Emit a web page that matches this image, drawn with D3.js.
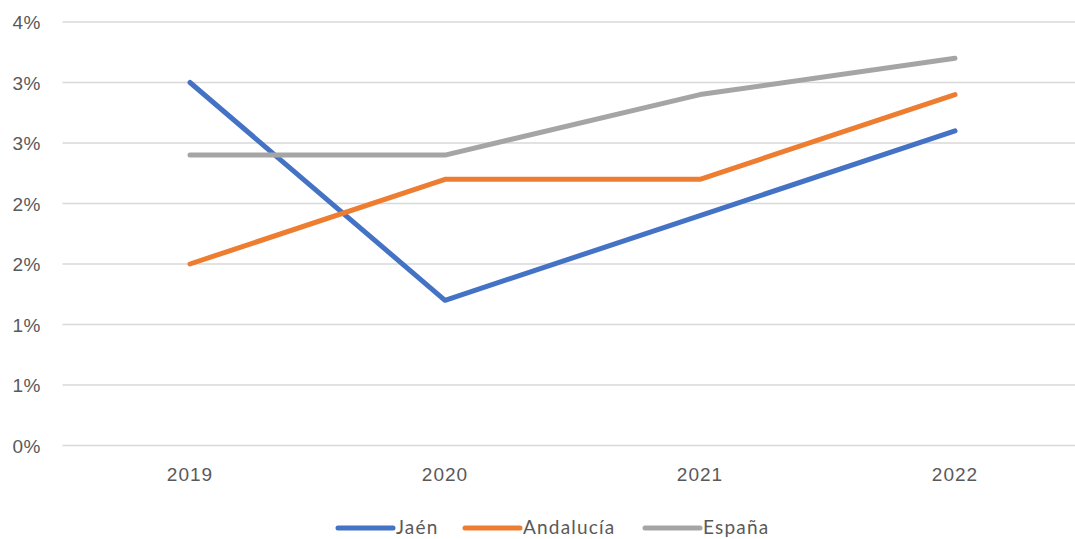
<!doctype html>
<html>
  <head>
    <script src="https://cdnjs.cloudflare.com/ajax/libs/d3/7.8.5/d3.min.js"></script>
    <style>
      body { margin: 0; background: #fff; }
      svg { font-family: Lato, "Liberation Sans", sans-serif; }
      .grid line { stroke: #D9D9D9; stroke-width: 1.5; }
      .tick text { fill: #595959; font-size: 19px; }
      .x .tick text { letter-spacing: 1px; }
      .y .tick text { letter-spacing: 0.5px; }
      path.series { fill: none; stroke-width: 5; stroke-linecap: round; stroke-linejoin: round; }
      .legend text { fill: #595959; font-size: 19px; letter-spacing: 1.2px; }
    </style>
  </head>
  <body>
    <svg width="1075" height="539"></svg>
    <script>
      var years = ["2019", "2020", "2021", "2022"];
      var jaen = [3.0, 1.2, 1.9, 2.6];
      var andalucia = [1.5, 2.2, 2.2, 2.9];
      var espana = [2.4, 2.4, 2.9, 3.2];
      var yTicks = [0, 0.5, 1, 1.5, 2, 2.5, 3, 3.5];
      var yTickLabels = ["0%", "1%", "1%", "2%", "2%", "3%", "3%", "4%"];

      var series = [
        { name: "Jaén", values: jaen, color: "#4472C4" },
        { name: "Andalucía", values: andalucia, color: "#ED7D31" },
        { name: "España", values: espana, color: "#A5A5A5" }
      ];

      var svg = d3.select("svg");

      var x = d3.scaleBand()
        .domain(years)
        .range([62.5, 1082.5]);

      var y = d3.scaleLinear()
        .domain([0, 3.5])
        .range([445.5, 22]);

      // gridlines
      svg.append("g")
          .attr("class", "grid")
        .selectAll("line").data(yTicks)
        .enter()
        .append("line")
          .attr("x1", 62.5)
          .attr("x2", 1075)
          .attr("y1", d => y(d))
          .attr("y2", d => y(d));

      var yAxis = d3.axisLeft(y)
        .tickValues(yTicks)
        .tickFormat((d, i) => yTickLabels[i])
        .tickSize(0)
        .tickPadding(0);

      svg.append("g")
          .attr("class", "y")
          .attr("transform", "translate(41,0)")
          .call(yAxis)
          .call(g => g.select(".domain").remove())
          .selectAll("text")
            .attr("dy", "0.35em");

      var xAxis = d3.axisBottom(x)
        .tickSize(0)
        .tickPadding(0);

      svg.append("g")
          .attr("class", "x")
          .attr("transform", "translate(0,467)")
          .call(xAxis)
          .call(g => g.select(".domain").remove());

      var line = d3.line()
        .x((d, i) => x(years[i]) + x.bandwidth() / 2)
        .y(d => y(d));

      svg.selectAll("path.series").data(series)
        .enter()
        .append("path")
          .attr("class", "series")
          .attr("stroke", d => d.color)
          .attr("d", d => line(d.values));

      // legend
      var legendX = [338, 465, 645];
      var legend = svg.append("g").attr("class", "legend")
        .selectAll("g").data(series)
        .enter()
        .append("g")
          .attr("transform", (d, i) => "translate(" + legendX[i] + ",528)");

      legend.append("line")
          .attr("x1", 0).attr("x2", 55)
          .attr("stroke", d => d.color)
          .attr("stroke-width", 5)
          .attr("stroke-linecap", "round");

      legend.append("text")
          .attr("x", 58)
          .attr("dy", "0.3em")
          .text(d => d.name);
    </script>
  </body>
</html>
